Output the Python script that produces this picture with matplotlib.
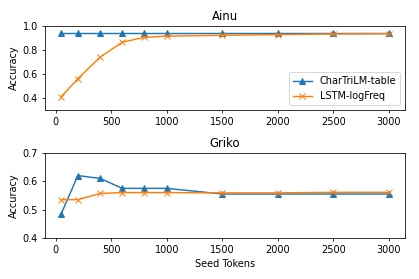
import matplotlib
matplotlib.use("Agg")
import matplotlib.pyplot as plt

seed_tokens = [50, 200, 400, 600, 800, 1000, 1500, 2000, 2500, 3000]

ainu_tri = [0.945, 0.945, 0.945, 0.945, 0.945, 0.945, 0.945, 0.945, 0.945, 0.945]
ainu_lstm = [0.41, 0.56, 0.74, 0.865, 0.905, 0.915, 0.922, 0.928, 0.933, 0.935]

griko_tri = [0.485, 0.62, 0.61, 0.575, 0.575, 0.575, 0.555, 0.555, 0.555, 0.555]
griko_lstm = [0.535, 0.535, 0.557, 0.56, 0.56, 0.56, 0.559, 0.559, 0.561, 0.561]

dpi = 70
fig = plt.figure(figsize=(419 / dpi, 279 / dpi), dpi=dpi)

ax1 = fig.add_axes([0.107, 0.606, 0.860, 0.301])
ax1.plot(seed_tokens, ainu_tri, marker="^", label="CharTriLM-table")
ax1.plot(seed_tokens, ainu_lstm, marker="x", label="LSTM-logFreq")
ax1.set_ylim(0.3, 1.0)
ax1.set_yticks([0.4, 0.6, 0.8, 1.0])
ax1.set_xticks([0, 500, 1000, 1500, 2000, 2500, 3000])
ax1.set_title("Ainu")
ax1.set_ylabel("Accuracy")
ax1.legend(loc="lower right")

ax2 = fig.add_axes([0.107, 0.147, 0.860, 0.305])
ax2.plot(seed_tokens, griko_tri, marker="^", label="CharTriLM-table")
ax2.plot(seed_tokens, griko_lstm, marker="x", label="LSTM-logFreq")
ax2.set_ylim(0.4, 0.7)
ax2.set_yticks([0.4, 0.5, 0.6, 0.7])
ax2.set_xticks([0, 500, 1000, 1500, 2000, 2500, 3000])
ax2.set_title("Griko")
ax2.set_ylabel("Accuracy")
ax2.set_xlabel("Seed Tokens")

fig.savefig("out.png", dpi=dpi)
